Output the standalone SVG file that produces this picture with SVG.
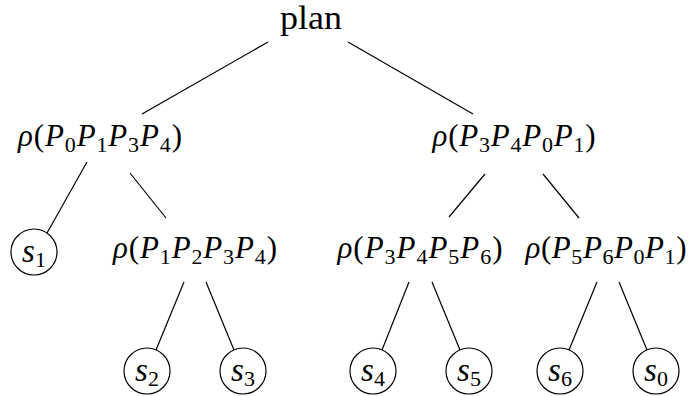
<svg xmlns="http://www.w3.org/2000/svg" width="688" height="396" viewBox="0 0 688 396">
<style>
text{font-family:"Liberation Serif","DejaVu Serif",serif;font-size:31px;fill:#000;text-anchor:middle}
.i{font-style:italic}
.sub{font-size:22px;font-style:normal}
.lt{font-size:33px}
.leaf{fill:#fff;stroke:#000;stroke-width:1.2}
.edge{stroke:#000;stroke-width:1.2;fill:none}
</style>
<rect width="688" height="396" fill="#fff"/>
<g id="connectors">
<line class="edge" x1="268" y1="42" x2="142" y2="114"/>
<line class="edge" x1="348" y1="42" x2="473" y2="114"/>
<line class="edge" x1="87" y1="162" x2="47" y2="233"/>
<line class="edge" x1="130" y1="173" x2="166" y2="218"/>
<line class="edge" x1="485" y1="174" x2="449" y2="217"/>
<line class="edge" x1="543" y1="174" x2="579" y2="218"/>
<line class="edge" x1="184" y1="282" x2="156" y2="350"/>
<line class="edge" x1="206" y1="282" x2="234" y2="350"/>
<line class="edge" x1="409" y1="282" x2="382" y2="350"/>
<line class="edge" x1="432" y1="282" x2="460" y2="350"/>
<line class="edge" x1="597" y1="282" x2="569" y2="350"/>
<line class="edge" x1="619" y1="282" x2="647" y2="350"/>
</g>
<g id="plan"><text class="lt" x="311" y="29" textLength="62" lengthAdjust="spacingAndGlyphs">plan</text></g>
<g id="n1"><text x="100" y="146" textLength="164" lengthAdjust="spacing"><tspan class="i">ρ</tspan>(<tspan class="i">P</tspan><tspan class="sub" dy="6">0</tspan><tspan class="i" dy="-6">P</tspan><tspan class="sub" dy="6">1</tspan><tspan class="i" dy="-6">P</tspan><tspan class="sub" dy="6">3</tspan><tspan class="i" dy="-6">P</tspan><tspan class="sub" dy="6">4</tspan><tspan dy="-6">)</tspan></text></g>
<g id="n2"><text x="514" y="146" textLength="163" lengthAdjust="spacing"><tspan class="i">ρ</tspan>(<tspan class="i">P</tspan><tspan class="sub" dy="6">3</tspan><tspan class="i" dy="-6">P</tspan><tspan class="sub" dy="6">4</tspan><tspan class="i" dy="-6">P</tspan><tspan class="sub" dy="6">0</tspan><tspan class="i" dy="-6">P</tspan><tspan class="sub" dy="6">1</tspan><tspan dy="-6">)</tspan></text></g>
<g id="s1"><circle class="leaf" cx="34" cy="252" r="23"/><text class="lt" x="34" y="262"><tspan class="i">s</tspan><tspan class="sub" dy="5">1</tspan></text></g>
<g id="n3"><text x="195" y="258" textLength="164" lengthAdjust="spacing"><tspan class="i">ρ</tspan>(<tspan class="i">P</tspan><tspan class="sub" dy="6">1</tspan><tspan class="i" dy="-6">P</tspan><tspan class="sub" dy="6">2</tspan><tspan class="i" dy="-6">P</tspan><tspan class="sub" dy="6">3</tspan><tspan class="i" dy="-6">P</tspan><tspan class="sub" dy="6">4</tspan><tspan dy="-6">)</tspan></text></g>
<g id="n4"><text x="420" y="258" textLength="165" lengthAdjust="spacing"><tspan class="i">ρ</tspan>(<tspan class="i">P</tspan><tspan class="sub" dy="6">3</tspan><tspan class="i" dy="-6">P</tspan><tspan class="sub" dy="6">4</tspan><tspan class="i" dy="-6">P</tspan><tspan class="sub" dy="6">5</tspan><tspan class="i" dy="-6">P</tspan><tspan class="sub" dy="6">6</tspan><tspan dy="-6">)</tspan></text></g>
<g id="n5"><text x="606" y="258" textLength="161" lengthAdjust="spacing"><tspan class="i">ρ</tspan>(<tspan class="i">P</tspan><tspan class="sub" dy="6">5</tspan><tspan class="i" dy="-6">P</tspan><tspan class="sub" dy="6">6</tspan><tspan class="i" dy="-6">P</tspan><tspan class="sub" dy="6">0</tspan><tspan class="i" dy="-6">P</tspan><tspan class="sub" dy="6">1</tspan><tspan dy="-6">)</tspan></text></g>
<g id="s2"><circle class="leaf" cx="147" cy="371" r="23"/><text class="lt" x="147" y="381"><tspan class="i">s</tspan><tspan class="sub" dy="5">2</tspan></text></g>
<g id="s3"><circle class="leaf" cx="243" cy="371" r="23"/><text class="lt" x="243" y="381"><tspan class="i">s</tspan><tspan class="sub" dy="5">3</tspan></text></g>
<g id="s4"><circle class="leaf" cx="373" cy="371" r="23"/><text class="lt" x="373" y="381"><tspan class="i">s</tspan><tspan class="sub" dy="5">4</tspan></text></g>
<g id="s5"><circle class="leaf" cx="469" cy="371" r="23"/><text class="lt" x="469" y="381"><tspan class="i">s</tspan><tspan class="sub" dy="5">5</tspan></text></g>
<g id="s6"><circle class="leaf" cx="560" cy="371" r="23"/><text class="lt" x="560" y="381"><tspan class="i">s</tspan><tspan class="sub" dy="5">6</tspan></text></g>
<g id="s0"><circle class="leaf" cx="656" cy="371" r="23"/><text class="lt" x="656" y="381"><tspan class="i">s</tspan><tspan class="sub" dy="5">0</tspan></text></g>
</svg>
